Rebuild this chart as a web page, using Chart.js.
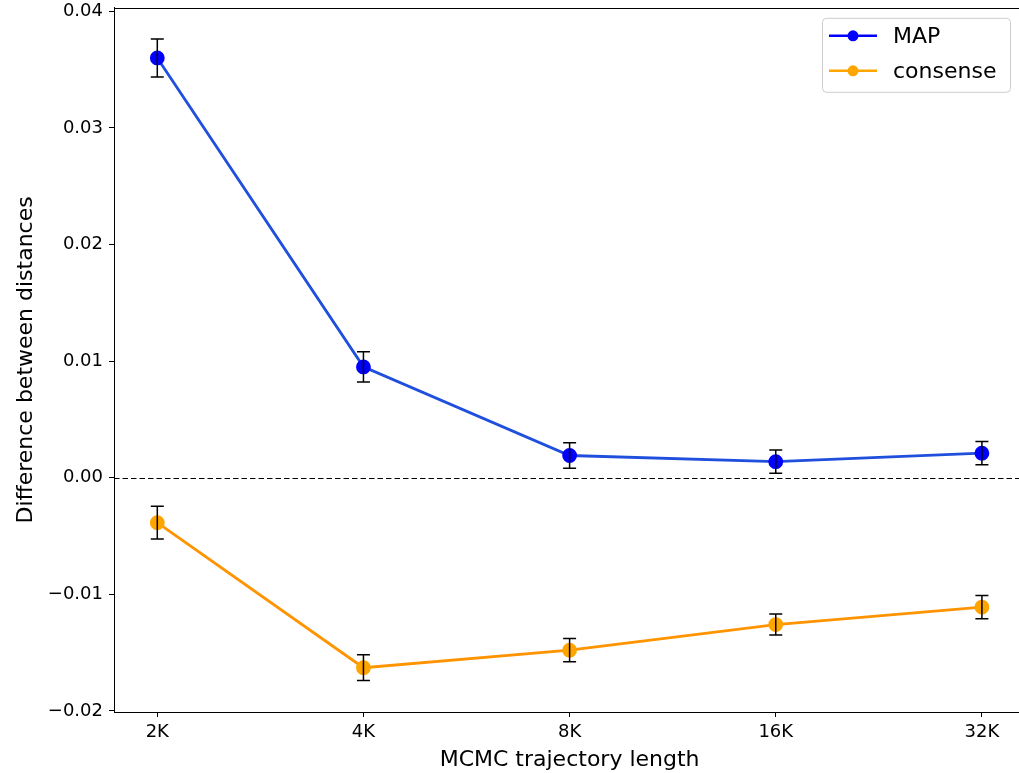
<!DOCTYPE html>
<html><head><meta charset="utf-8">
<script src="https://cdn.jsdelivr.net/npm/chart.js@4.4.0/dist/chart.umd.min.js"></script>
<style>html,body{margin:0;padding:0;background:#fff}
#box{position:relative;width:1019px;height:773px;overflow:hidden;background:#fff}
#c{position:absolute;left:0;top:0;display:block}</style>
</head><body><div id="box"><canvas id="c" width="1040" height="800"></canvas></div>
<script>
const categories = ['2K','4K','8K','16K','32K'];
const mapValues = [0.0360, 0.0095, 0.0019, 0.00137, 0.0021];
const mapErrors = [0.00163, 0.0013, 0.0011, 0.001, 0.001];
const consenseValues = [-0.00386, -0.0163, -0.0148, -0.0126, -0.0111];
const consenseErrors = [0.0014, 0.0011, 0.001, 0.0009, 0.001];
const yTicks = [-0.02, -0.01, 0.00, 0.01, 0.02, 0.03, 0.04];
const seriesNames = ['MAP', 'consense'];

const FONT = "'DejaVu Sans', sans-serif";

const errorBarPlugin = {
  id: 'errbars',
  afterDatasetsDraw(chart) {
    const ctx = chart.ctx, xs = chart.scales.x, ys = chart.scales.y;
    const sets = [[mapValues, mapErrors], [consenseValues, consenseErrors]];
    ctx.save();
    ctx.strokeStyle = '#000'; ctx.lineWidth = 1.5;
    sets.forEach(([vals, errs]) => {
      vals.forEach((v, i) => {
        const x = xs.getPixelForValue(i);
        const y1 = ys.getPixelForValue(v + errs[i]);
        const y2 = ys.getPixelForValue(v - errs[i]);
        ctx.beginPath();
        ctx.moveTo(x, y1); ctx.lineTo(x, y2);
        ctx.moveTo(x - 6.5, y1); ctx.lineTo(x + 6.5, y1);
        ctx.moveTo(x - 6.5, y2); ctx.lineTo(x + 6.5, y2);
        ctx.stroke();
      });
    });
    ctx.restore();
  }
};

const zeroLinePlugin = {
  id: 'zeroline',
  beforeDatasetsDraw(chart) {
    const ctx = chart.ctx, a = chart.chartArea, ys = chart.scales.y;
    const y = Math.round(ys.getPixelForValue(0)) + 0.5;
    ctx.save();
    ctx.strokeStyle = '#000'; ctx.lineWidth = 1.2;
    ctx.setLineDash([5.5, 3]);
    ctx.beginPath(); ctx.moveTo(a.left, y); ctx.lineTo(a.right, y); ctx.stroke();
    ctx.restore();
  }
};

const framePlugin = {
  id: 'frame',
  afterDraw(chart) {
    const ctx = chart.ctx, a = chart.chartArea;
    ctx.save();
    ctx.strokeStyle = '#000'; ctx.lineWidth = 1;
    ctx.strokeRect(Math.round(a.left) + 0.5, Math.round(a.top) + 0.5, Math.round(a.right - a.left), Math.round(a.bottom - a.top));
    // legend, placed relative to the plot area's top-left corner
    const ox = a.left - 114, oy = a.top - 8;
    const lx = 822 + ox, ly = 18 + oy, lw = 188, lh = 74;
    ctx.fillStyle = 'rgba(255,255,255,0.8)';
    ctx.strokeStyle = '#cccccc';
    ctx.beginPath();
    ctx.roundRect(lx + 0.5, ly + 0.5, lw, lh, 4);
    ctx.fill(); ctx.stroke();
    const cols = ['#0000ff', '#ffa500'];
    const rows = [36, 71];
    seriesNames.forEach((n, i) => {
      const yy = rows[i] + oy;
      ctx.strokeStyle = cols[i]; ctx.lineWidth = 2.5;
      ctx.beginPath(); ctx.moveTo(829 + ox, yy); ctx.lineTo(877 + ox, yy); ctx.stroke();
      ctx.fillStyle = cols[i];
      ctx.beginPath(); ctx.arc(853 + ox, yy, 5.5, 0, Math.PI * 2); ctx.fill();
      ctx.fillStyle = '#000';
      ctx.font = "22px " + FONT;
      ctx.textBaseline = 'middle';
      ctx.fillText(n, 893 + ox, yy + 1);
    });
    ctx.restore();
  }
};

function makeConfig() {
  return {
    type: 'line',
    data: {
      datasets: [
        {
          label: seriesNames[0],
          data: mapValues.map((v, i) => ({x: i, y: v})),
          borderColor: '#1f4fdc', backgroundColor: '#0000ff',
          pointBackgroundColor: '#0000ff', pointBorderColor: '#0000ff',
          borderWidth: 2.8, pointRadius: 6, tension: 0
        },
        {
          label: seriesNames[1],
          data: consenseValues.map((v, i) => ({x: i, y: v})),
          borderColor: '#ff9400', backgroundColor: '#ffa500',
          pointBackgroundColor: '#ffa500', pointBorderColor: '#ffa500',
          borderWidth: 2.8, pointRadius: 6, tension: 0
        }
      ]
    },
    options: {
      responsive: false, maintainAspectRatio: false, animation: false, devicePixelRatio: 1,
      layout: {padding: {top: 0, right: 0, left: 0, bottom: 0}},
      plugins: {legend: {display: false}, tooltip: {enabled: false}},
      scales: {
        x: {
          type: 'linear', min: -0.21, max: 4.21,
          afterBuildTicks: s => { s.ticks = categories.map((c, i) => ({value: i})); },
          afterFit: s => { s.height = 61; },
          ticks: {callback: (v) => categories[v], color: '#000', font: {family: FONT, size: 18}, padding: 5, maxRotation: 0},
          grid: {drawOnChartArea: false, drawTicks: true, tickLength: 5, color: '#000', tickWidth: 1},
          border: {display: true, color: '#000'},
          title: {display: true, text: 'MCMC trajectory length', color: '#000', font: {family: FONT, size: 22}, padding: {top: 0, bottom: 0}}
        },
        y: {
          min: -0.0201, max: 0.0403,
          afterBuildTicks: s => { s.ticks = yTicks.map(v => ({value: v})); },
          afterFit: s => { s.width = 114; },
          ticks: {callback: v => (v < 0 ? '\u2212' : '') + Math.abs(v).toFixed(2), color: '#000', font: {family: FONT, size: 18}, padding: 6},
          grid: {drawOnChartArea: false, drawTicks: true, tickLength: 5, color: '#000', tickWidth: 1},
          border: {display: true, color: '#000'},
          title: {display: true, text: 'Difference between distances', color: '#000', font: {family: FONT, size: 22}, padding: {top: 13, bottom: 2}}
        }
      }
    },
    plugins: [zeroLinePlugin, errorBarPlugin, framePlugin]
  };
}

const canvas = document.getElementById('c');
// Pass 1: measure how much room the axes take, then size the canvas so the
// plot area spans x 114..1025 and y 8..712 inside the clipped 1019x773 box.
let chart = new Chart(canvas, makeConfig());
const W0 = canvas.width, H0 = canvas.height;
const a0 = chart.chartArea;
const T = a0.top, L = a0.left, rightGap = W0 - a0.right, bottomGap = H0 - a0.bottom;
chart.destroy();
const W = Math.round(L + (1025 - 114) + rightGap);
const H = Math.round(T + (712 - 8) + bottomGap);
canvas.width = W; canvas.height = H;
canvas.style.width = W + 'px'; canvas.style.height = H + 'px';
canvas.style.left = (114 - L) + 'px';
canvas.style.top = (8 - T) + 'px';
chart = new Chart(canvas, makeConfig());
</script>
</body></html>
